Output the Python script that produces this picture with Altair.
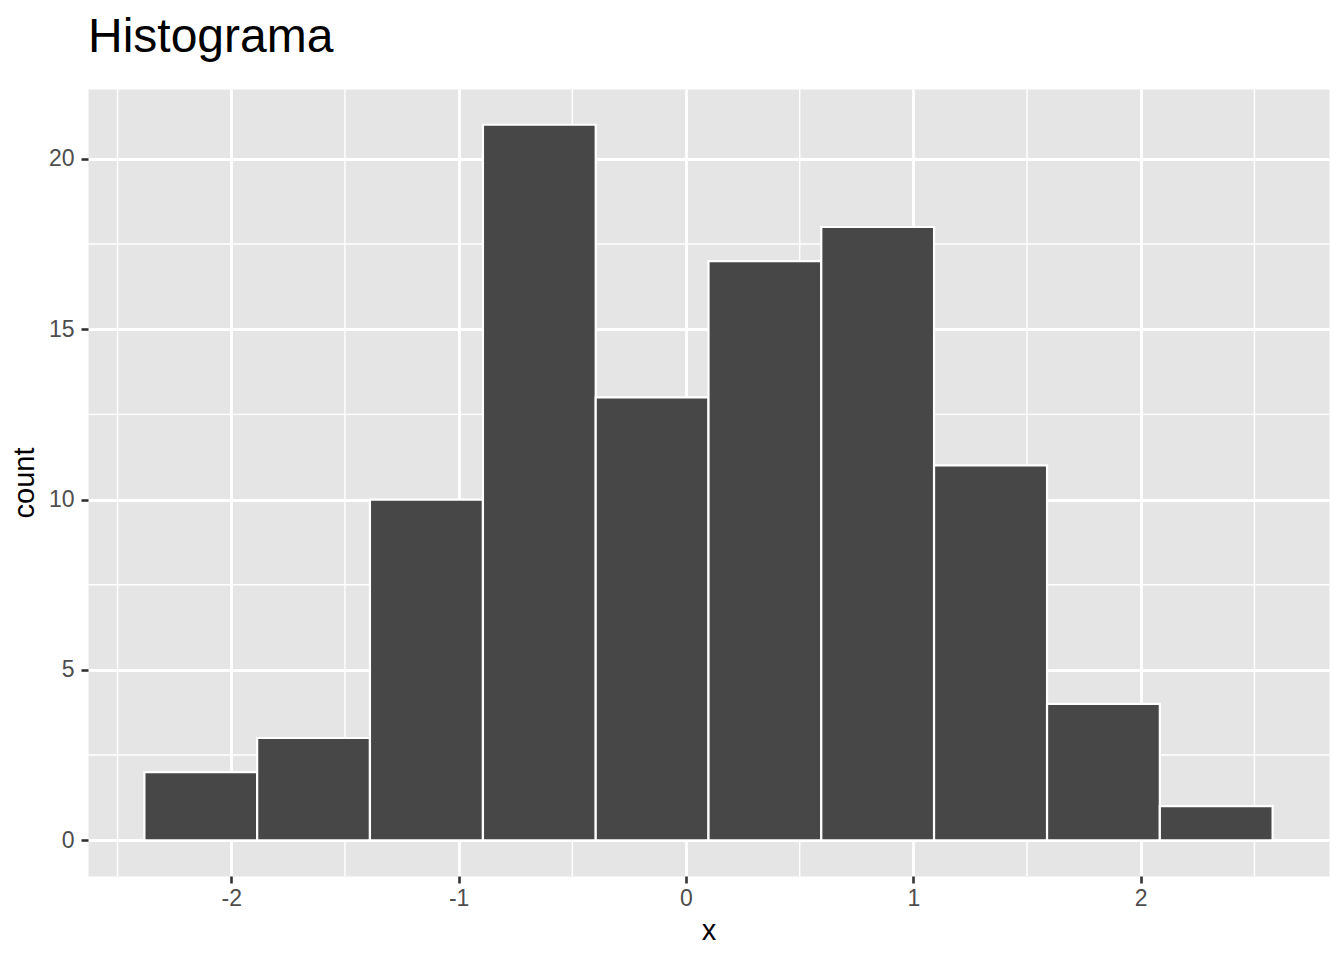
import altair as alt
import pandas as pd

# Histogram data
bin_start = [-2.382, -1.886, -1.390, -0.893, -0.397, 0.099, 0.595, 1.091, 1.588, 2.084]
bin_end = [-1.886, -1.390, -0.893, -0.397, 0.099, 0.595, 1.091, 1.588, 2.084, 2.580]
counts = [2, 3, 10, 21, 13, 17, 18, 11, 4, 1]

x_ticks = [-2, -1, 0, 1, 2]
y_ticks = [0, 5, 10, 15, 20]
x_minor = [-2.5, -1.5, -0.5, 0.5, 1.5, 2.5]
y_minor = [2.5, 7.5, 12.5, 17.5]

x_domain = [-2.630, 2.828]
y_domain = [-1.05, 22.05]

bars_df = pd.DataFrame({"start": bin_start, "end": bin_end, "count": counts})
xminor_df = pd.DataFrame({"start": x_minor})
yminor_df = pd.DataFrame({"count": y_minor})

x_scale = alt.Scale(domain=x_domain, nice=False, zero=False)
y_scale = alt.Scale(domain=y_domain, nice=False, zero=False)

W, H = 1241, 787

x_axis = alt.Axis(
    values=x_ticks, title="x", grid=True, gridColor="white", gridWidth=2.8,
    domain=False, ticks=True, tickColor="#333333", tickWidth=2.6, tickSize=7,
    labelFont="Liberation Sans", labelFontSize=23, labelColor="#4D4D4D",
    labelPadding=4, labelExpr="toString(datum.value)",
    titleFont="Liberation Sans", titleFontSize=29, titleFontWeight="normal",
    titleColor="black", titleX=W / 2, titleY=63, titleBaseline="alphabetic",
    titleAlign="center",
)
y_axis = alt.Axis(
    values=y_ticks, title="count", grid=True, gridColor="white", gridWidth=2.8,
    domain=False, ticks=True, tickColor="#333333", tickWidth=2.6, tickSize=7,
    labelFont="Liberation Sans", labelFontSize=23, labelColor="#4D4D4D",
    labelPadding=7, labelExpr="toString(datum.value)",
    titleFont="Liberation Sans", titleFontSize=29, titleFontWeight="normal",
    titleColor="black", titleX=-55, titleY=H / 2, titleAngle=270,
    titleBaseline="alphabetic", titleAlign="center",
)

vminor = alt.Chart(xminor_df).mark_rule(color="white", strokeWidth=1.4).encode(
    x=alt.X("start:Q", scale=x_scale, axis=x_axis)
)
hminor = alt.Chart(yminor_df).mark_rule(color="white", strokeWidth=1.4).encode(
    y=alt.Y("count:Q", scale=y_scale, axis=y_axis)
)
bars = alt.Chart(bars_df).mark_rect(
    fill="#474747", stroke="white", strokeWidth=2.2
).encode(
    x=alt.X("start:Q", scale=x_scale, axis=x_axis),
    x2="end:Q",
    y=alt.Y("count:Q", scale=y_scale, axis=y_axis),
    y2=alt.datum(0),
)

chart = alt.layer(vminor, hminor, bars).properties(
    width=W,
    height=H,
    title=alt.Title(
        "Histograma", anchor="start", frame="group", font="Liberation Sans",
        fontSize=48, fontWeight="normal", color="black", offset=34, dy=46,
        baseline="alphabetic",
    ),
    autosize=alt.AutoSizeParams(type="none"),
    padding={"left": 80, "top": 81, "right": 7, "bottom": 70},
    background="white",
).configure_view(fill="#E5E5E5", stroke="transparent")

chart.save("out.html", embed_options={"renderer": "svg", "actions": False})
